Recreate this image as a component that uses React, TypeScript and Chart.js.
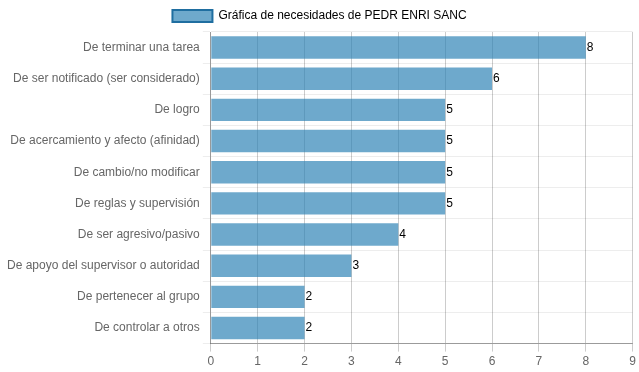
import React, { useEffect, useRef } from "react";
import { Chart, registerables } from "chart.js";

Chart.register(...registerables);

const categories = [
  "De terminar una tarea",
  "De ser notificado (ser considerado)",
  "De logro",
  "De acercamiento y afecto (afinidad)",
  "De cambio/no modificar",
  "De reglas y supervisión",
  "De ser agresivo/pasivo",
  "De apoyo del supervisor o autoridad",
  "De pertenecer al grupo",
  "De controlar a otros",
];
const values = [8, 6, 5, 5, 5, 5, 4, 3, 2, 2];
const seriesLabel = "Gráfica de necesidades de PEDR ENRI SANC";

const valueLabels = {
  id: "valueLabels",
  afterDatasetsDraw(chart: any) {
    const ctx = chart.ctx;
    const meta = chart.getDatasetMeta(0);
    ctx.save();
    ctx.font = "12px Arial, 'Liberation Sans', sans-serif";
    ctx.fillStyle = "#000";
    ctx.textAlign = "left";
    ctx.textBaseline = "middle";
    meta.data.forEach((bar: any, i: number) => {
      ctx.fillText(String(chart.data.datasets[0].data[i]), bar.x + 1, bar.y);
    });
    ctx.restore();
  },
};

export default function App() {
  const ref = useRef<HTMLCanvasElement>(null);
  useEffect(() => {
    Chart.defaults.font.family = "Arial, 'Liberation Sans', sans-serif";
    Chart.defaults.font.size = 12;
    Chart.defaults.color = "#666";
    const chart = new Chart(ref.current!, {
      type: "bar",
      data: {
        labels: categories,
        datasets: [
          {
            label: seriesLabel,
            data: values,
            backgroundColor: "rgba(41,128,180,0.68)",
            borderColor: "rgba(31,110,160,1)",
            borderWidth: 0,
          },
        ],
      },
      options: {
        indexAxis: "y",
        animation: false,
        responsive: true,
        maintainAspectRatio: false,
        layout: { padding: { left: 4, right: 4 } },
        plugins: {
          legend: {
            labels: {
              boxWidth: 40,
              generateLabels: () => [
                {
                  text: seriesLabel,
                  fillStyle: "rgba(41,128,180,0.68)",
                  strokeStyle: "rgba(31,110,160,1)",
                  lineWidth: 2,
                  datasetIndex: 0,
                  hidden: false,
                },
              ],
            },
          },
          tooltip: { enabled: false },
        },
        scales: {
          x: {
            min: 0,
            max: 9,
            ticks: { stepSize: 1 },
            grid: { color: "rgba(0,0,0,0.2)" },
            border: { color: "rgba(0,0,0,0.35)" },
          },
          y: {
            grid: { color: "rgba(0,0,0,0.07)" },
            border: { color: "rgba(0,0,0,0.25)" },
          },
        },
      },
      plugins: [valueLabels],
    });
    return () => chart.destroy();
  }, []);
  return (
    <div style={{ position: "fixed", left: 0, top: 0, width: 639, height: 372 }}>
      <canvas ref={ref} />
    </div>
  );
}
